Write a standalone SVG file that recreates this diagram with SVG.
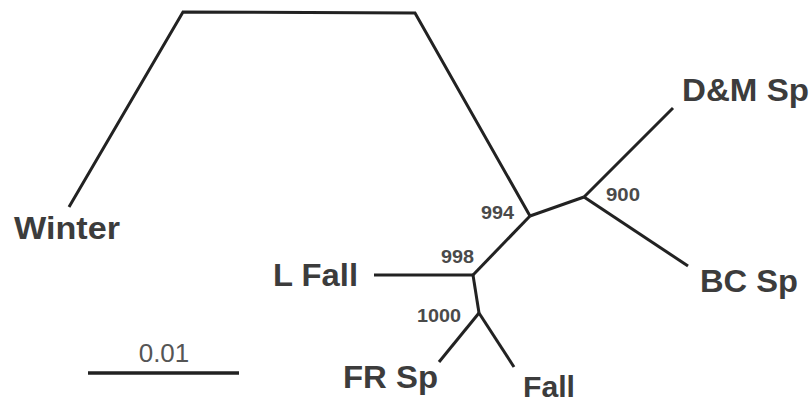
<svg xmlns="http://www.w3.org/2000/svg" width="812" height="405" viewBox="0 0 812 405">
<style>
.br{fill:none;stroke:#222;stroke-width:3;stroke-linejoin:miter;stroke-linecap:butt}
.lab{font-family:"Liberation Sans",Arial,sans-serif;font-weight:bold;font-size:32px;fill:#3c3c3c}
.bs{font-family:"Liberation Sans",Arial,sans-serif;font-weight:bold;font-size:18px;fill:#4a4a4a}
.sc{font-family:"Liberation Sans",Arial,sans-serif;font-size:26px;fill:#555}
</style>
<rect width="812" height="405" fill="#fff"/>
<g id="connectors">
<polyline class="br" points="69,207 183,12 415,13 530,216"/>
<line class="br" x1="530" y1="216" x2="584" y2="197"/>
<line class="br" x1="584" y1="197" x2="673" y2="108"/>
<line class="br" x1="584" y1="197" x2="688" y2="266"/>
<line class="br" x1="530" y1="216" x2="473" y2="275"/>
<line class="br" x1="374" y1="275" x2="473" y2="275"/>
<line class="br" x1="473" y1="275" x2="479" y2="313"/>
<line class="br" x1="479" y1="313" x2="439" y2="362"/>
<line class="br" x1="479" y1="313" x2="514" y2="367"/>
</g>
<g id="winter"><text class="lab" x="14" y="239" textLength="106" lengthAdjust="spacingAndGlyphs">Winter</text></g>
<g id="dm-sp"><text class="lab" x="682" y="101" textLength="127" lengthAdjust="spacingAndGlyphs">D&amp;M Sp</text></g>
<g id="bc-sp"><text class="lab" x="700" y="292" textLength="98" lengthAdjust="spacingAndGlyphs">BC Sp</text></g>
<g id="l-fall"><text class="lab" x="273" y="286" textLength="85" lengthAdjust="spacingAndGlyphs">L Fall</text></g>
<g id="fr-sp"><text class="lab" x="343" y="388" textLength="95" lengthAdjust="spacingAndGlyphs">FR Sp</text></g>
<g id="fall"><text class="lab" x="523" y="397" font-size="30" style="font-size:30px" textLength="52" lengthAdjust="spacingAndGlyphs">Fall</text></g>
<g id="node-994"><text class="bs" x="481" y="219" textLength="33" lengthAdjust="spacingAndGlyphs">994</text></g>
<g id="node-900"><text class="bs" x="606" y="201" textLength="34" lengthAdjust="spacingAndGlyphs">900</text></g>
<g id="node-998"><text class="bs" x="441" y="263" textLength="33" lengthAdjust="spacingAndGlyphs">998</text></g>
<g id="node-1000"><text class="bs" x="417" y="322" textLength="44" lengthAdjust="spacingAndGlyphs">1000</text></g>
<g id="scale-bar">
<line x1="88" y1="373" x2="239" y2="373" stroke="#222" stroke-width="3.5"/>
<text class="sc" x="164" y="362" text-anchor="middle">0.01</text>
</g>
</svg>
